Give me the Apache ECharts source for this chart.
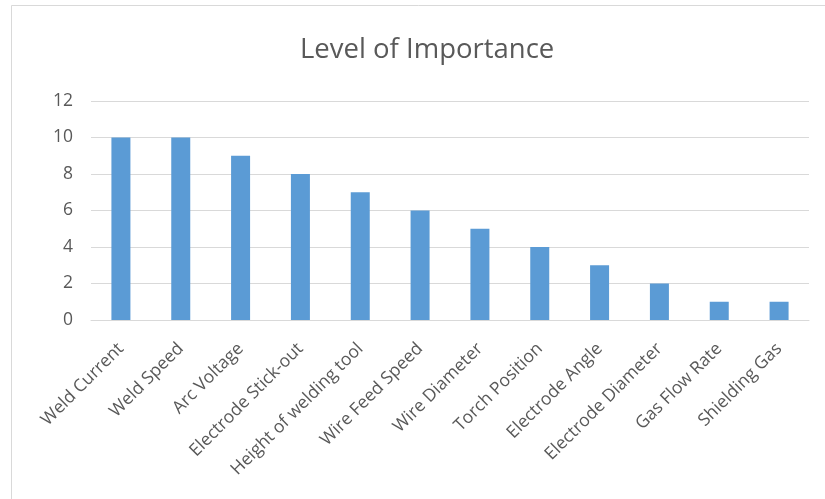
<!DOCTYPE html>
<html style="height: 100%">
<head>
<meta charset="utf-8">
<script src="https://cdn.jsdelivr.net/npm/echarts@6/dist/echarts.min.js"></script>
</head>
<body style="height: 100%; margin: 0; background: #fff">
<div id="container" style="width: 825px; height: 499px"></div>
<script type="text/javascript">
var categories = ['Weld Current', 'Weld Speed', 'Arc Voltage', 'Electrode Stick-out',
  'Height of welding tool', 'Wire Feed Speed', 'Wire Diameter', 'Torch Position',
  'Electrode Angle', 'Electrode Diameter', 'Gas Flow Rate', 'Shielding Gas'];
var importance = [10, 10, 9, 8, 7, 6, 5, 4, 3, 2, 1, 1];

var font = '"Open Sans", "Noto Sans", sans-serif';
var chart = echarts.init(document.getElementById('container'));
var option = {
  animation: false,
  backgroundColor: '#fff',
  graphic: [{
    type: 'rect',
    shape: { x: 11.5, y: 5.5, width: 900, height: 600 },
    style: { fill: 'none', stroke: '#d9d9d9', lineWidth: 1 },
    silent: true
  }],
  title: {
    text: 'Level of Importance',
    left: 295,
    top: 31,
    textStyle: { fontFamily: font, fontSize: 27.5, fontWeight: 'normal', color: '#595959' }
  },
  grid: { left: 91, right: 16, top: 101, bottom: 179 },
  xAxis: {
    type: 'category',
    data: categories,
    axisTick: { show: false },
    axisLine: { lineStyle: { color: '#d9d9d9', width: 1 } },
    axisLabel: {
      rotate: 45, interval: 0, margin: 26,
      fontFamily: font, fontSize: 17.5, color: '#595959'
    }
  },
  yAxis: {
    type: 'value',
    min: 0, max: 12, interval: 2,
    axisLine: { show: false },
    axisTick: { show: false },
    splitLine: { lineStyle: { color: '#d9d9d9', width: 1 } },
    axisLabel: { margin: 18, fontFamily: font, fontSize: 17.5, color: '#595959' }
  },
  series: [{
    type: 'bar',
    data: importance,
    barWidth: 19,
    itemStyle: { color: '#5b9bd5' }
  }]
};
chart.setOption(option);
</script>
</body>
</html>
